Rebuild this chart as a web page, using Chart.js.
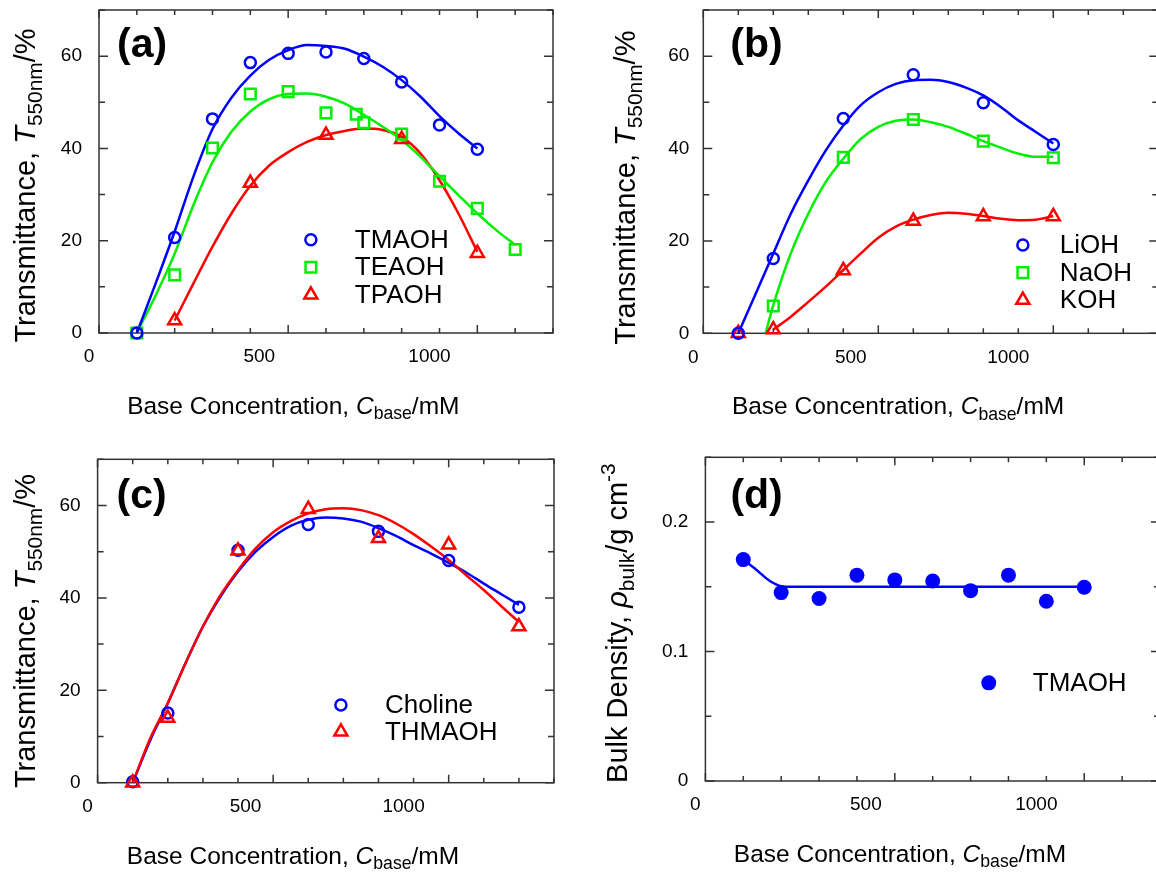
<!DOCTYPE html>
<html>
<head>
<meta charset="utf-8">
<script src="https://cdn.jsdelivr.net/npm/chart.js@4.4.1/dist/chart.umd.min.js"></script>
<style>
html, body { margin: 0; padding: 0; background: #fff; overflow: hidden; width: 1156px; height: 872px; }
canvas { position: absolute; }
</style>
</head>
<body>
<canvas id="chartA" width="578" height="440" style="left:0px;top:0px"></canvas>
<canvas id="chartB" width="600" height="440" style="left:578px;top:0px"></canvas>
<canvas id="chartC" width="578" height="432" style="left:0px;top:440px"></canvas>
<canvas id="chartD" width="600" height="432" style="left:578px;top:440px"></canvas>
<script>
const FONT = '"Liberation Sans", Arial, Helvetica, sans-serif';
const BLUE = '#0000ff', GREEN = '#00ee00', RED = '#ff0000';

// ---- (a) quaternary ammonium hydroxides ----
const concTmaoh = [100, 200, 300, 400, 500, 600, 700, 800, 900, 1000];
const tmaoh = [0, 20.7, 46.4, 58.6, 60.6, 60.9, 59.5, 54.4, 45.1, 39.8];
const concTeaoh = [100, 200, 300, 400, 500, 600, 680, 700, 800, 900, 1000, 1100];
const teaoh = [0, 12.6, 40.1, 51.8, 52.3, 47.7, 47.4, 45.6, 43.1, 32.9, 27.0, 18.1];
const concTpaoh = [200, 400, 600, 800, 1000];
const tpaoh = [2.7, 32.5, 42.9, 42.0, 17.3];
// fitted curves
const fitTmaohX = [100, 150, 200, 250, 300, 350, 400, 450, 500, 550, 600, 650, 700, 750, 800, 850, 900, 950, 1000];
const fitTmaoh = [0, 10.8, 22.0, 34.0, 44.2, 51.0, 55.8, 59.2, 61.3, 62.4, 62.2, 61.6, 59.9, 57.7, 54.8, 51.2, 47.0, 43.3, 40.0];
const fitTeaohX = [100, 150, 200, 250, 300, 350, 400, 450, 500, 550, 600, 650, 700, 750, 800, 850, 900, 950, 1000, 1050, 1100];
const fitTeaoh = [0, 8.2, 17.2, 27.8, 37.0, 43.6, 48.0, 50.7, 51.8, 51.9, 51.2, 49.7, 47.3, 44.7, 41.8, 38.2, 34.0, 29.9, 25.9, 22.3, 19.1];
const fitTpaohX = [200, 250, 300, 350, 400, 450, 500, 550, 600, 650, 700, 750, 800, 850, 900, 950, 1000];
const fitTpaoh = [2.7, 10.8, 18.7, 25.9, 31.9, 36.3, 39.2, 41.4, 42.9, 43.8, 44.3, 44.0, 42.5, 38.9, 33.1, 25.9, 17.6];

// ---- (b) alkali hydroxides ----
const concLioh = [100, 200, 400, 600, 800, 1000];
const lioh = [0, 16.2, 46.5, 56.0, 49.9, 40.9];
const concNaoh = [200, 400, 600, 800, 1000];
const naoh = [5.9, 38.1, 46.3, 41.6, 38.0];
const concKoh = [100, 200, 400, 600, 800, 1000];
const koh = [0, 0.8, 13.6, 24.3, 25.3, 25.3];
const fitLiohX = [100, 150, 200, 250, 300, 350, 400, 450, 500, 550, 600, 650, 700, 750, 800, 850, 900, 950, 1000];
const fitLioh = [0, 8.6, 17.3, 25.9, 33.1, 39.6, 45.0, 49.4, 52.2, 54.0, 54.8, 54.9, 54.4, 53.2, 51.5, 49.0, 46.1, 43.6, 41.1];
const fitNaohX = [178, 200, 250, 300, 350, 400, 450, 500, 550, 600, 650, 700, 750, 800, 850, 900, 950, 1000];
const fitNaoh = [0, 6.1, 17.3, 25.9, 32.8, 37.8, 42.1, 44.7, 46.0, 46.3, 45.7, 44.7, 43.2, 41.6, 40.2, 38.9, 38.2, 38.2];
const fitKohX = [200, 250, 300, 350, 400, 450, 500, 550, 600, 650, 700, 750, 800, 850, 900, 950, 1000];
const fitKoh = [0.8, 3.6, 6.8, 10.1, 13.7, 17.3, 20.7, 23.1, 24.6, 25.6, 26.1, 25.9, 25.4, 24.8, 24.5, 24.6, 25.4];

// ---- (c) choline / THMAOH ----
const concC = [100, 200, 400, 600, 800, 1000, 1200];
const choline = [0.2, 15.1, 50.3, 55.9, 54.4, 48.1, 38.0];
const thmaoh = [0, 14.0, 50.2, 59.2, 52.9, 51.5, 33.8];
const fitCX = [100, 150, 200, 250, 300, 350, 400, 450, 500, 550, 600, 650, 700, 750, 800, 850, 900, 950, 1000, 1050, 1100, 1150, 1200];
const fitCholine = [0, 9.2, 17.2, 25.8, 33.8, 40.3, 45.7, 50.0, 53.2, 55.6, 56.9, 57.4, 57.2, 56.5, 55.1, 53.4, 51.4, 49.6, 47.6, 45.5, 43.1, 40.8, 38.5];
const fitThmaoh = [0, 9.6, 17.2, 25.8, 33.8, 40.6, 46.0, 50.7, 54.2, 56.6, 58.3, 59.2, 59.4, 59.0, 57.9, 56.1, 53.8, 51.1, 48.2, 44.9, 41.7, 38.2, 34.8];

// ---- (d) bulk density, TMAOH ----
const concD = [100, 200, 300, 400, 500, 600, 700, 800, 900, 1000];
const density = [0.171, 0.1455, 0.141, 0.159, 0.1553, 0.1545, 0.147, 0.159, 0.1388, 0.1496];
const fitDX = [100, 135, 170, 210, 1000];
const fitD = [0.171, 0.163, 0.1545, 0.150, 0.150];

const xTickLabels = [0, 500, 1000];

function pts(xs, ys) {
    return xs.map((x, i) => ({ x: x, y: ys[i] }));
}

function markers(label, xs, ys, color, style, radius, filled, order) {
    return {
        label: label,
        data: pts(xs, ys),
        showLine: false,
        pointStyle: style,
        pointRadius: radius,
        pointBorderWidth: filled ? 0 : 2.5,
        pointBorderColor: color,
        pointBackgroundColor: filled ? color : 'rgba(0,0,0,0)',
        clip: false,
        order: order
    };
}

function fitLine(xs, ys, color, order) {
    return {
        data: pts(xs, ys),
        borderColor: color,
        borderWidth: 2.5,
        pointRadius: 0,
        cubicInterpolationMode: 'monotone',
        fill: false,
        clip: false,
        order: 10 + order
    };
}

// rich text: parts like {t, i (italic), sub, sup}
function drawRich(ctx, parts, size, cx, cy, rotate) {
    const fontOf = p => (p.i ? 'italic ' : '') + ((p.sub || p.sup) ? size * 0.72 : size) + 'px ' + FONT;
    let w = 0;
    const widths = parts.map(p => {
        ctx.font = fontOf(p);
        const m = ctx.measureText(p.t).width;
        w += m;
        return m;
    });
    ctx.save();
    ctx.translate(cx, cy);
    if (rotate) ctx.rotate(-Math.PI / 2);
    ctx.fillStyle = '#000';
    ctx.textAlign = 'left';
    ctx.textBaseline = 'alphabetic';
    let xx = -w / 2;
    const base = size * 0.36;
    parts.forEach((p, i) => {
        ctx.font = fontOf(p);
        const dy = p.sub ? size * 0.22 : (p.sup ? -size * 0.42 : 0);
        ctx.fillText(p.t, xx, base + dy);
        xx += widths[i];
    });
    ctx.restore();
}

const xTitle = [{ t: 'Base Concentration, ' }, { t: 'C', i: true }, { t: 'base', sub: true }, { t: '/mM' }];
const tTitle = [{ t: 'Transmittance, ' }, { t: 'T', i: true }, { t: '550nm', sub: true }, { t: '/%' }];
const dTitle = [{ t: 'Bulk Density, ' }, { t: '\u03C1', i: true }, { t: 'bulk', sub: true }, { t: '/g cm' }, { t: '-3', sup: true }];

// frame, inward ticks, shifted x numbers, titles, tag and legend
function makePanelPlugin(p) {
    return {
        id: 'panel' + p.tag,
        beforeDatasetsDraw(chart) {
            const ctx = chart.ctx, a = chart.chartArea, xs = chart.scales.x, ys = chart.scales.y;
            ctx.save();
            ctx.strokeStyle = '#333';
            ctx.lineWidth = 1.5;
            ctx.strokeRect(a.left, a.top, a.right - a.left, a.bottom - a.top);
            ctx.beginPath();
            const nx = Math.round(xs.max / 100);
            for (let k = 0; k <= nx; k++) {
                const px = xs.getPixelForValue(k * 100);
                const len = k % 5 === 0 ? 8 : 5;
                ctx.moveTo(px, a.bottom); ctx.lineTo(px, a.bottom - len);
                ctx.moveTo(px, a.top); ctx.lineTo(px, a.top + len);
            }
            const ny = Math.round(ys.max / p.yStep);
            for (let k = 0; k <= ny; k++) {
                const py = ys.getPixelForValue(k * p.yStep);
                const len = k % 2 === 0 ? 9 : 6;
                ctx.moveTo(a.left, py); ctx.lineTo(a.left + len, py);
                ctx.moveTo(a.right, py); ctx.lineTo(a.right - len, py);
            }
            ctx.stroke();
            ctx.restore();
        },
        afterDraw(chart) {
            const ctx = chart.ctx, a = chart.chartArea, xs = chart.scales.x, ys = chart.scales.y;
            ctx.save();
            // the numbers under the x axis sit on a slightly squeezed grid in the original
            ctx.font = '19px ' + FONT;
            ctx.fillStyle = '#000';
            ctx.textAlign = 'center';
            ctx.textBaseline = 'middle';
            xTickLabels.forEach(v => {
                ctx.fillText(String(v), xs.getPixelForValue(v * 0.9) - 10, a.bottom + 24);
            });
            drawRich(ctx, xTitle, 24.5, xs.getPixelForValue(xs.max * 0.45) - 10, a.bottom + 72, false);
            drawRich(ctx, p.yTitle, 29, p.yTitleX, (a.top + a.bottom) / 2 + p.yTitleDy, true);

            ctx.font = 'bold 41px ' + FONT;
            ctx.textAlign = 'left';
            ctx.textBaseline = 'alphabetic';
            ctx.fillText(p.tag, a.left + p.tagDx, a.top + p.tagDy);

            const lg = p.legend;
            lg.items.forEach((idx, i) => {
                const ds = chart.data.datasets[idx];
                const lx = xs.getPixelForValue(lg.x);
                const ly = ys.getPixelForValue(lg.y) + i * lg.gap;
                ctx.strokeStyle = ds.pointBorderColor;
                ctx.fillStyle = ds.pointBackgroundColor;
                ctx.lineWidth = ds.pointBorderWidth;
                Chart.helpers.drawPoint(ctx, { pointStyle: ds.pointStyle, rotation: 0, radius: ds.pointRadius, borderWidth: ds.pointBorderWidth }, lx, ly);
                ctx.fillStyle = '#000';
                ctx.font = '26px ' + FONT;
                ctx.textBaseline = 'middle';
                ctx.textAlign = 'left';
                ctx.fillText(ds.label, lx + lg.dx, ly + 1);
            });
            ctx.restore();
        }
    };
}

function makePanel(p) {
    const canvas = document.getElementById(p.id);
    return new Chart(canvas.getContext('2d'), {
        type: 'line',
        data: { datasets: p.datasets },
        plugins: [makePanelPlugin(p)],
        options: {
            responsive: false,
            animation: false,
            devicePixelRatio: 1,
            events: [],
            layout: { padding: { left: 0, top: p.padTop, right: p.padRight, bottom: 0 } },
            plugins: { legend: { display: false }, tooltip: { enabled: false } },
            scales: {
                x: {
                    type: 'linear',
                    min: 0,
                    max: p.xMax,
                    afterFit: s => { s.height = p.xAxisHeight; },
                    grid: { display: false, drawTicks: false },
                    border: { display: false },
                    ticks: { display: false }
                },
                y: {
                    type: 'linear',
                    min: 0,
                    max: p.yMax,
                    // fixed width; drop the label overhang padding so the plot box lands where it should
                    afterFit: s => { s.width = p.yAxisWidth; s.paddingTop = 0; s.paddingBottom = 0; },
                    grid: { display: false, drawTicks: false },
                    border: { display: false },
                    ticks: {
                        stepSize: p.yStep,
                        autoSkip: false,
                        padding: p.tickPad,
                        color: '#000',
                        font: { family: FONT, size: 19 },
                        callback: p.yLabel
                    }
                }
            }
        }
    });
}

const tLabel = v => (Math.round(v) % 20 === 0 ? String(Math.round(v)) : null);
const dLabel = v => {
    const t = Math.round(v * 100);
    if (t % 10 !== 0) return null;
    return t === 0 ? '0' : (t / 100).toFixed(1);
};

makePanel({
    id: 'chartA', tag: '(a)', xMax: 1200, yMax: 70, yStep: 10, yLabel: tLabel,
    padTop: 10, padRight: 25, yAxisWidth: 99, xAxisHeight: 107, tickPad: 17,
    yTitle: tTitle, yTitleX: 25, yTitleDy: 14, tagDx: 18, tagDy: 47,
    legend: { items: [0, 1, 2], x: 560, y: 20.2, gap: 27.5, dx: 44 },
    datasets: [
        markers('TMAOH', concTmaoh, tmaoh, BLUE, 'circle', 5.5, false, 0),
        markers('TEAOH', concTeaoh, teaoh, GREEN, 'rect', 7.5, false, 1),
        markers('TPAOH', concTpaoh, tpaoh, RED, 'triangle', 7.5, false, 2),
        fitLine(fitTmaohX, fitTmaoh, BLUE, 0),
        fitLine(fitTeaohX, fitTeaoh, GREEN, 1),
        fitLine(fitTpaohX, fitTpaoh, RED, 2)
    ]
});

makePanel({
    id: 'chartB', tag: '(b)', xMax: 1300, yMax: 70, yStep: 10, yLabel: tLabel,
    padTop: 9.3, padRight: 19.7, yAxisWidth: 125.3, xAxisHeight: 106.7, tickPad: 14,
    yTitle: tTitle, yTitleX: 47, yTitleDy: 16, tagDx: 27, tagDy: 47,
    legend: { items: [0, 1, 2], x: 913, y: 19.1, gap: 27.5, dx: 37 },
    datasets: [
        markers('LiOH', concLioh, lioh, BLUE, 'circle', 5.5, false, 0),
        markers('NaOH', concNaoh, naoh, GREEN, 'rect', 7.5, false, 1),
        markers('KOH', concKoh, koh, RED, 'triangle', 7.5, false, 2),
        fitLine(fitLiohX, fitLioh, BLUE, 0),
        fitLine(fitNaohX, fitNaoh, GREEN, 1),
        fitLine(fitKohX, fitKoh, RED, 2)
    ]
});

makePanel({
    id: 'chartC', tag: '(c)', xMax: 1300, yMax: 70, yStep: 10, yLabel: tLabel,
    padTop: 19.3, padRight: 24, yAxisWidth: 97.6, xAxisHeight: 89.3, tickPad: 17,
    yTitle: tTitle, yTitleX: 25, yTitleDy: 10, tagDx: 19, tagDy: 49,
    legend: { items: [1, 0], x: 693, y: 16.8, gap: 26.7, dx: 44 },
    datasets: [
        markers('THMAOH', concC, thmaoh, RED, 'triangle', 7.5, false, 0),
        markers('Choline', concC, choline, BLUE, 'circle', 5.5, false, 1),
        fitLine(fitCX, fitThmaoh, RED, 0),
        fitLine(fitCX, fitCholine, BLUE, 1)
    ]
});

makePanel({
    id: 'chartD', tag: '(d)', xMax: 1200, yMax: 0.25, yStep: 0.05, yLabel: dLabel,
    padTop: 17.3, padRight: 18, yAxisWidth: 127.4, xAxisHeight: 91, tickPad: 17,
    yTitle: dTitle, yTitleX: 39, yTitleDy: 4, tagDx: 25, tagDy: 51,
    legend: { items: [0], x: 748, y: 0.0758, gap: 0, dx: 44 },
    datasets: [
        markers('TMAOH', concD, density, BLUE, 'circle', 7.5, true, 0),
        fitLine(fitDX, fitD, BLUE, 0)
    ]
});
</script>
</body>
</html>
